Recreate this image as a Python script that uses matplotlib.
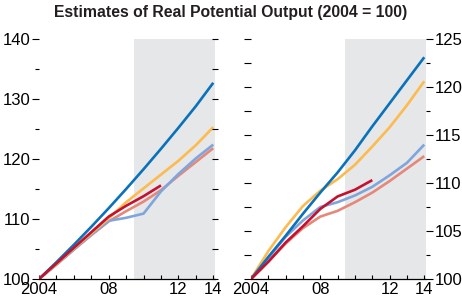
import numpy as np
import matplotlib
matplotlib.use('Agg')
import matplotlib.pyplot as plt
from matplotlib.ticker import MultipleLocator

plt.rcParams['font.family'] = ['Liberation Sans', 'DejaVu Sans']

years = list(range(2004, 2015))
years_short = list(range(2004, 2012))
xtick_pos = [2004, 2008, 2012, 2014]
xtick_labels = ['2004', '08', '12', '14']

# left panel
left_dark_blue = [100, 102.8, 105.7, 108.7, 111.8, 115.0, 118.3, 121.7, 125.2, 128.8, 132.7]
left_orange = [100, 102.5, 105.1, 107.6, 110.1, 112.8, 115.1, 117.4, 119.7, 122.3, 125.3]
left_light_blue = [100, 102.4, 104.9, 107.4, 109.7, 110.2, 110.9, 114.6, 117.5, 120.1, 122.4]
left_salmon = [100, 102.4, 104.9, 107.3, 109.6, 111.3, 112.9, 114.8, 117.2, 119.5, 121.8]
left_red = [100, 102.6, 105.2, 107.8, 110.4, 112.2, 113.8, 115.6]

# right panel
right_dark_blue = [100, 102.3, 104.5, 106.8, 109.0, 111.1, 113.4, 115.9, 118.3, 120.7, 123.1]
right_orange = [100, 102.9, 105.4, 107.6, 109.2, 110.4, 111.9, 113.8, 115.8, 118.1, 120.6]
right_light_blue = [100, 102.2, 104.4, 106.1, 107.5, 108.0, 108.7, 109.6, 110.8, 112.1, 114.0]
right_salmon = [100, 101.8, 103.7, 105.3, 106.5, 107.1, 108.0, 109.0, 110.2, 111.5, 112.8]
right_red = [100, 101.8, 103.8, 105.5, 107.3, 108.6, 109.3, 110.3]

shade_start = 2009.45
x_max = 2014.1

c_blue = '#0A71BB'
c_orange = '#FDBA4E'
c_lblue = '#7EA6DD'
c_salmon = '#E5887A'
c_red = '#C3112F'
c_shade = '#E6E7E8'
lw = 1.9

fig = plt.figure(figsize=(4.62, 3.0), dpi=100)
ax1 = fig.add_axes([39 / 462, 21 / 300, 176 / 462, 240 / 300])
ax2 = fig.add_axes([251 / 462, 21 / 300, 175 / 462, 240 / 300])


def draw_lines(ax, blue, orange, lblue, salmon, red):
	ax.axvspan(shade_start, x_max, color=c_shade, lw=0, zorder=0)
	ax.plot(years, salmon, color=c_salmon, lw=lw, solid_capstyle='butt')
	ax.plot(years, lblue, color=c_lblue, lw=lw, solid_capstyle='butt')
	ax.plot(years, orange, color=c_orange, lw=lw, solid_capstyle='butt')
	ax.plot(years, blue, color=c_blue, lw=lw, solid_capstyle='butt')
	ax.plot(years_short, red, color=c_red, lw=lw, solid_capstyle='butt')
	ax.set_xlim(2004, x_max)
	for s in ['top', 'left', 'right']:
		ax.spines[s].set_visible(False)
	ax.spines['bottom'].set_linewidth(0.9)
	ax.set_xticks(xtick_pos)
	ax.set_xticklabels(xtick_labels, fontsize=12)
	ax.xaxis.set_minor_locator(MultipleLocator(1))
	ax.tick_params(axis='x', which='both', direction='in', length=3, width=0.8, pad=2)


draw_lines(ax1, left_dark_blue, left_orange, left_light_blue, left_salmon, left_red)
draw_lines(ax2, right_dark_blue, right_orange, right_light_blue, right_salmon, right_red)

# left panel y axis
ax1.set_ylim(100, 140)
ax1.set_yticks(np.arange(100, 141, 10))
ax1.yaxis.set_minor_locator(MultipleLocator(5))
ax1.tick_params(axis='y', which='major', direction='out', length=5, width=0.8, labelsize=12, pad=1)
ax1.tick_params(axis='y', which='minor', direction='out', length=3, width=0.8)
ax1r = ax1.twinx()
ax1r.set_ylim(100, 140)
ax1r.set_yticks(np.arange(100, 141, 5))
ax1r.tick_params(axis='y', direction='inout', length=5, width=0.8, labelright=False)
for s in ax1r.spines.values():
	s.set_visible(False)

# right panel y axis
ax2.set_ylim(100, 125)
ax2.set_yticks(np.arange(100, 125.1, 2.5))
ax2.tick_params(axis='y', direction='out', length=5, width=0.8, labelleft=False)
ax2r = ax2.twinx()
ax2r.set_ylim(100, 125)
ax2r.set_yticks(np.arange(100, 126, 5))
ax2r.yaxis.set_minor_locator(MultipleLocator(2.5))
ax2r.tick_params(axis='y', which='major', direction='out', length=5, width=0.8, labelsize=12, pad=1)
ax2r.tick_params(axis='y', which='minor', direction='out', length=3, width=0.8)
for s in ax2r.spines.values():
	s.set_visible(False)

fig.text(0.5, 1 - 12 / 300, 'Estimates of Real Potential Output (2004 = 100)',
	ha='center', va='center', fontsize=11.3, fontweight='bold',
	family=['Liberation Sans', 'DejaVu Sans'], color='#231F20')

fig.savefig('out.png', dpi=100)
